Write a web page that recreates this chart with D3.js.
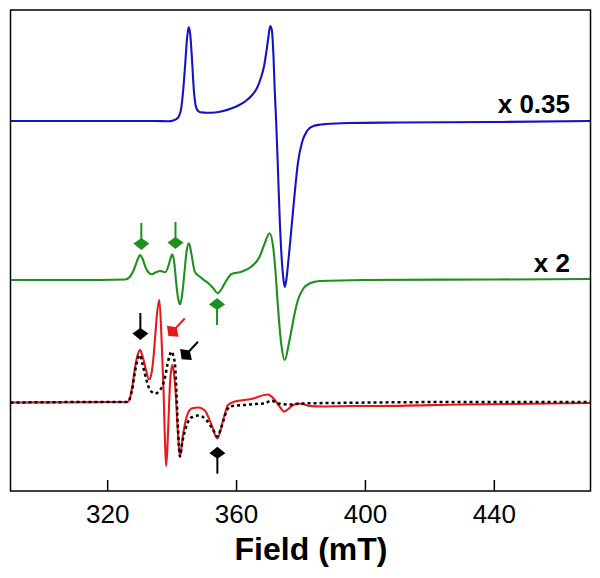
<!DOCTYPE html>
<html>
<head>
<meta charset="utf-8">
<script src="https://cdn.jsdelivr.net/npm/d3@7/dist/d3.min.js"></script>
<style>
  html, body { margin: 0; padding: 0; background: #fff; }
  svg { display: block; }
  text { font-family: "Liberation Sans", Arial, Helvetica, sans-serif; }
</style>
</head>
<body>
<svg id="chart" width="600" height="578"></svg>
<script>
// ---- data (field in mT, intensity in arbitrary units, relative to each trace's baseline) ----
const fieldTicks = [320, 360, 400, 440];
const xLabel = "Field (mT)";
const traceNames = ["blue", "green", "red", "black"];
const traceOffsets = { blue: 370, green: 211, red: 88.5, black: 88.5 };
const scaleLabels = [
  { trace: "blue", text: "x 0.35" },
  { trace: "green", text: "x 2" }
];

const blueSpectrum = [[290,0],[300,0],[320,0],[335,0],[339,-0.3],[340.5,0.5],[341.5,2],[342.3,5],[343,13],[343.6,31],[344.2,56],[344.8,83],[345.3,94],[345.8,86],[346.3,63],[346.9,31],[347.5,15],[348.2,10],[349,8.7],[351,8.2],[353.5,8.5],[356,10],[358.5,12.5],[361,16],[363,20],[365,26],[366.5,33],[367.7,43],[368.7,55],[369.4,69],[370,83],[370.6,95],[371.1,91],[371.6,66],[372,31],[372.4,3],[372.9,-39],[373.5,-94],[374.1,-134],[374.6,-155],[375.1,-166],[375.6,-159],[376.2,-141],[377,-114],[378,-79],[379.2,-42],[380.5,-21],[382,-10],[384,-5],[388,-3],[395,-2],[410,-1.5],[440,-1],[470,0]];

const greenSpectrum = [[290,0],[310,0],[325.6,0.5],[327,3],[328.5,12],[329.5,21],[330.2,25],[331,21],[332,12],[333,7],[333.8,5.7],[335,7.5],[336.4,9],[337.2,8.5],[338,7.7],[339,14],[339.7,22],[340.2,25.7],[340.8,18],[341.4,-2],[342,-18],[342.6,-24.3],[343.3,-14],[344,8],[344.7,30],[345.4,36.7],[346.2,25],[347.2,8.3],[348.8,3.3],[350,0],[351.4,-3.3],[353,-8.5],[354.3,-13.3],[355.5,-9],[356.5,-3.3],[358.6,6],[361.7,8.3],[364.7,13.3],[367.3,23.3],[368.9,36.7],[370.4,46.7],[371.5,33.3],[372.2,10],[373,-26.7],[374,-63.3],[375.1,-80],[376.6,-60],[378.2,-33.3],[379.2,-20],[381,-8],[382.9,-3.3],[386,-1],[400,0],[440,0.5],[470,1]];

const redSpectrum = [[290,0],[310,0.3],[320,0.5],[326.4,0.5],[327.7,14],[328.7,36],[329.5,48],[330.2,52.5],[331,46],[331.8,36],[333,23],[333.8,30],[334.4,46],[335,70],[335.4,86],[336.2,102.5],[336.9,62],[337.5,12],[338,-44],[338.3,-63.5],[338.7,-45],[339,-21],[339.5,19],[340.2,37.5],[340.7,30],[341.2,12.5],[341.9,-27.5],[342.6,-54],[343.6,-31],[344.7,-14],[346.2,-6],[348.3,-5],[350.3,-8],[352.4,-22.5],[354.2,-36],[356,-17.5],[357.5,-2.5],[359.6,1],[364.7,3.5],[369.9,8],[371,6],[372,2.5],[373.5,-4],[374.9,-9],[376,-7],[377.1,-4],[379.2,-1],[380.6,-1.5],[383,-3.5],[386.5,-4],[395,-3.5],[404,-3.5],[430,-2],[470,-0.5]];

const blackSpectrum = [[290,0],[320,0.5],[326.4,0.5],[327.7,12],[328.7,32],[329.5,44],[330.2,47.5],[331,38],[331.8,27.5],[332.5,19],[333.3,12.5],[334.9,9],[336.4,12.5],[337.2,17],[338,26],[339,42.5],[340,51],[340.5,47],[341.1,36],[341.5,10],[341.9,-20.5],[342.6,-54],[343.3,-40],[344.2,-27.5],[345.7,-16],[346.5,-14.5],[348.3,-13],[350.8,-17.5],[352.9,-27.5],[354.2,-34],[355.2,-27],[356,-19],[357,-9],[358.1,-4],[360,-3],[362.7,-2.5],[366,-1.5],[368.9,-1],[370.9,2],[373,-1],[377.1,-2],[380,-1],[390,-0.5],[430,0.5],[470,0.5]];

// arrow annotations: tip at (field, intensity) of a trace; angle = direction the arrow points (deg, 90 = down)
const arrowMarks = [
  { trace: "green", field: 330.6, intensity: 30,  angle: 90,  color: "green" },
  { trace: "green", field: 341.2, intensity: 31,  angle: 90,  color: "green" },
  { trace: "green", field: 354.1, intensity: -18, angle: -90, color: "green" },
  { trace: "red",   field: 330.3, intensity: 62.5, angle: 90, color: "black" },
  { trace: "red",   field: 339.0, intensity: 66.5, angle: 133, color: "red" },
  { trace: "red",   field: 343.1, intensity: 43.2, angle: 133, color: "black" },
  { trace: "red",   field: 354.2, intensity: -44.2, angle: -90, color: "black" }
];

// ---- styles ----
const colors = { blue: "#1414c4", green: "#1f8f1f", red: "#e8191c", black: "#000000" };
const plot = { left: 10.5, right: 590.5, top: 10, bottom: 491 };

const svg = d3.select("#chart");

const x = d3.scaleLinear().domain([290, 470]).range([plot.left, plot.right]);
const y = d3.scaleLinear().domain([0, 481]).range([plot.bottom, plot.top]);

const spectra = { blue: blueSpectrum, green: greenSpectrum, red: redSpectrum, black: blackSpectrum };

svg.append("clipPath").attr("id", "clip")
  .append("rect").attr("x", plot.left).attr("y", plot.top)
  .attr("width", plot.right - plot.left).attr("height", plot.bottom - plot.top);

const g = svg.append("g").attr("clip-path", "url(#clip)");

const lineFor = name => d3.line()
  .x(d => x(d[0]))
  .y(d => y(traceOffsets[name] + d[1]))
  .curve(d3.curveMonotoneX);

traceNames.forEach(name => {
  const path = g.append("path")
    .datum(spectra[name])
    .attr("fill", "none")
    .attr("stroke", colors[name])
    .attr("stroke-width", name === "black" ? 2.5 : 2.1)
    .attr("stroke-linejoin", "round")
    .attr("d", lineFor(name));
  if (name === "black") path.attr("stroke-dasharray", "3,3");
});

// arrows
const headPath = "M0,0 L-6.5,-8 L-12,0 L-6.5,8 Z"; // tip at origin pointing +x
arrowMarks.forEach(a => {
  const tx = x(a.field), ty = y(traceOffsets[a.trace] + a.intensity);
  const col = colors[a.color];
  const ag = svg.append("g").attr("transform", `translate(${tx},${ty}) rotate(${a.angle})`);
  const len = (a.angle === 90 || a.angle === -90) ? 27 : 24;
  ag.append("line").attr("x1", -len).attr("y1", 0).attr("x2", -9).attr("y2", 0)
    .attr("stroke", col).attr("stroke-width", 2);
  ag.append("path").attr("d", headPath).attr("fill", col);
});

// frame
svg.append("rect")
  .attr("x", plot.left).attr("y", plot.top)
  .attr("width", plot.right - plot.left).attr("height", plot.bottom - plot.top)
  .attr("fill", "none").attr("stroke", "#000").attr("stroke-width", 1.5);

// x axis (ticks inward)
const xAxis = d3.axisBottom(x).tickValues(fieldTicks).tickSizeInner(-11).tickSizeOuter(0).tickPadding(20);
const ax = svg.append("g").attr("transform", `translate(0,${plot.bottom})`).call(xAxis);
ax.select(".domain").remove();
ax.selectAll(".tick line").attr("stroke", "#000").attr("stroke-width", 1.5);
ax.selectAll(".tick text")
  .attr("font-size", 26).attr("fill", "#000")
  .attr("font-family", "'Liberation Sans', Arial, sans-serif")
  .attr("dy", null).attr("y", 32);

svg.append("text")
  .attr("x", 311).attr("y", 560)
  .attr("text-anchor", "middle")
  .attr("font-size", 32).attr("font-weight", "bold")
  .text(xLabel);

// scale labels
scaleLabels.forEach(s => {
  const baseY = y(traceOffsets[s.trace]);
  svg.append("text")
    .attr("x", 570).attr("y", baseY - 8)
    .attr("text-anchor", "end")
    .attr("font-size", 26).attr("font-weight", "bold")
    .text(s.text);
});
</script>
</body>
</html>
